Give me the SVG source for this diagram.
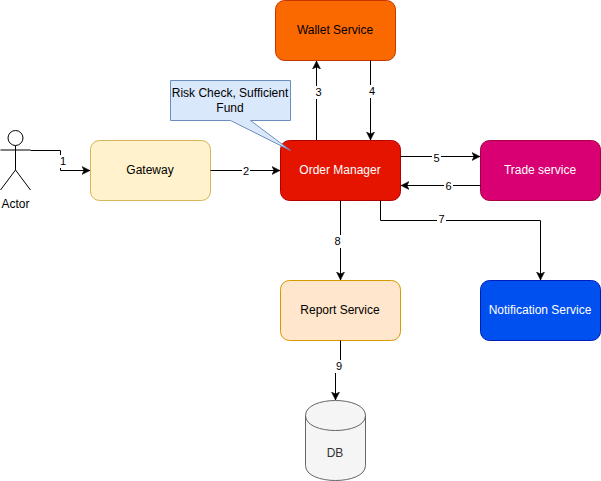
<svg xmlns="http://www.w3.org/2000/svg" width="601" height="481" viewBox="0 0 601 481">
<style>
text{font-family:"Liberation Sans",Arial,Helvetica,sans-serif;font-size:12px;text-anchor:middle;fill:#000}
.w{fill:#fff}
.n{stroke-width:1}
.c{fill:none;stroke:#000;stroke-width:1}
.l{font-size:11px}
.lb{fill:#fff;stroke:none}
</style>
<defs>
<marker id="a" markerUnits="userSpaceOnUse" markerWidth="9" markerHeight="10" refX="8" refY="4.5" orient="auto"><path d="M0 0.5L8 4.5L0 8.5L2 4.5Z" fill="#000" stroke="#000" stroke-width="0.5"/></marker>
</defs>
<g id="actor" fill="none" stroke="#000">
<circle cx="15.5" cy="138" r="7.5" fill="#fff"/>
<path d="M15.500 145.500V170M0.500 150H30.500M15.500 170L0.500 190M15.500 170L30.500 190"/>
<text x="15.500" y="208" stroke="none">Actor</text>
</g>
<g id="gateway"><rect class="n" x="90.500" y="140.500" width="120" height="60" rx="9" fill="#fff2cc" stroke="#d6b656"/><text x="150" y="174">Gateway</text></g>
<g id="order-manager"><rect class="n" x="280.500" y="140.500" width="120" height="60" rx="9" fill="#e51400" stroke="#b20000"/><text class="w" x="340" y="174">Order Manager</text></g>
<g id="wallet-service"><rect class="n" x="275.500" y="0.500" width="120" height="60" rx="9" fill="#fa6800" stroke="#c73500"/><text x="335" y="34">Wallet Service</text></g>
<g id="trade-service"><rect class="n" x="480.500" y="140.500" width="120" height="60" rx="9" fill="#d80073" stroke="#a50040"/><text class="w" x="540" y="174">Trade service</text></g>
<g id="notification-service"><rect class="n" x="480.500" y="280.500" width="120" height="60" rx="9" fill="#0050ef" stroke="#001dbc"/><text class="w" x="540" y="314">Notification Service</text></g>
<g id="report-service"><rect class="n" x="280.500" y="280.500" width="120" height="60" rx="9" fill="#ffe6cc" stroke="#d79b00"/><text x="340" y="314">Report Service</text></g>
<g id="db"><path d="M305.500 415.500C305.500 395.500 365.500 395.500 365.500 415.500V465.500C365.500 485.500 305.500 485.500 305.500 465.500Z" fill="#f5f5f5" stroke="#666"/><path d="M305.500 415.500C305.500 435.500 365.500 435.500 365.500 415.500" fill="none" stroke="#666"/><text x="335" y="457" fill="#333" style="fill:#333">DB</text></g>
<g id="callout"><path d="M170.500 80.500H290.500V120.500H250.500L290.500 150.500L230.500 120.500H170.500Z" fill="#dae8fc" stroke="#6c8ebf"/><text x="230" y="97">Risk Check, Sufficient</text><text x="230" y="112">Fund</text></g>
<g id="connectors">
<path class="c" marker-end="url(#a)" d="M30.500 150.500H60.500V170.500H90"/>
<path class="c" marker-end="url(#a)" d="M210.500 170.500H280"/>
<path class="c" marker-end="url(#a)" d="M316.500 140V61"/>
<path class="c" marker-end="url(#a)" d="M370.500 60.500V140"/>
<path class="c" marker-end="url(#a)" d="M400.500 156.500H480"/>
<path class="c" marker-end="url(#a)" d="M480.500 185.500H401"/>
<path class="c" marker-end="url(#a)" d="M380.500 200.500V220.500H540.500V280"/>
<path class="c" marker-end="url(#a)" d="M340.500 200.500V280"/>
<path class="c" marker-end="url(#a)" d="M340.500 340.500V370.500H335.500V400"/>
<rect class="lb" x="59" y="155" width="8" height="13"/><text class="l" x="63" y="165">1</text>
<rect class="lb" x="242" y="164" width="8" height="13"/><text class="l" x="246" y="175">2</text>
<rect class="lb" x="314" y="86" width="8" height="13"/><text class="l" x="318.500" y="96">3</text>
<rect class="lb" x="368" y="85" width="8" height="13"/><text class="l" x="372" y="95">4</text>
<rect class="lb" x="432" y="151" width="9" height="13"/><text class="l" x="436.500" y="162">5</text>
<rect class="lb" x="444" y="180" width="9" height="13"/><text class="l" x="448.500" y="190">6</text>
<rect class="lb" x="437" y="214" width="9" height="13"/><text class="l" x="441.500" y="223">7</text>
<rect class="lb" x="334" y="235" width="8" height="13"/><text class="l" x="337.500" y="245">8</text>
<rect class="lb" x="335" y="360" width="8" height="13"/><text class="l" x="339" y="370">9</text>
</g>
</svg>
